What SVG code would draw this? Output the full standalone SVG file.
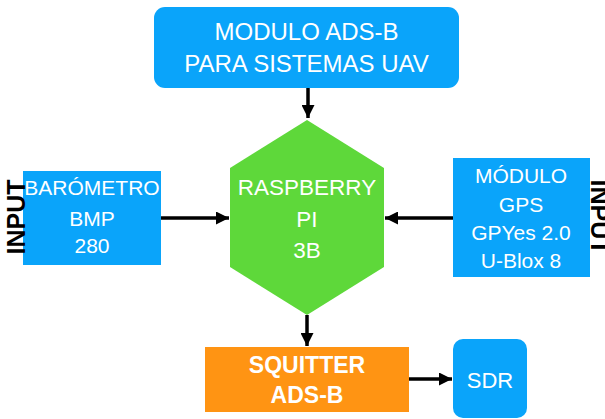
<svg xmlns="http://www.w3.org/2000/svg" width="605" height="419" viewBox="0 0 605 419">
<style>
.t{font-family:"Liberation Sans",Arial,sans-serif;fill:#fff;text-anchor:middle}
.in{font-family:"Liberation Sans",Arial,sans-serif;font-weight:bold;fill:#000;text-anchor:middle;font-size:25px}
.c{stroke:#000;stroke-width:3.5;fill:none;marker-end:url(#ah)}
.blue{fill:#0AA4FA}
</style>
<defs>
<marker id="ah" viewBox="0 0 10 10" refX="10" refY="5" markerUnits="userSpaceOnUse" markerWidth="13" markerHeight="13" orient="auto">
<path d="M0,0 L10,5 L0,10 Z" fill="#000"/>
</marker>
</defs>
<rect width="605" height="419" fill="#fff"/>
<g id="connectors">
<line class="c" x1="308" y1="88" x2="308" y2="118"/>
<line class="c" x1="161" y1="218" x2="229" y2="218"/>
<line class="c" x1="453" y1="218" x2="385" y2="218"/>
<line class="c" x1="307" y1="315" x2="307" y2="346"/>
<line class="c" x1="409" y1="379" x2="452" y2="379"/>
</g>
<g id="modulo">
<rect class="blue" x="154" y="7" width="305" height="81" rx="11"/>
<text class="t" x="306.5" y="40" font-size="24">MODULO ADS-B</text>
<text class="t" x="306.5" y="72" font-size="24">PARA SISTEMAS UAV</text>
</g>
<g id="raspberry">
<polygon points="307,120 384,168 384,267 307,315 230,267 230,168" fill="#5ED83A"/>
<text class="t" x="307" y="195" font-size="22.5">RASPBERRY</text>
<text class="t" x="307" y="227" font-size="22.5">PI</text>
<text class="t" x="307" y="258" font-size="22.5">3B</text>
</g>
<g id="barometro">
<rect class="blue" x="23" y="171" width="138" height="94"/>
<text class="t" x="92" y="195" font-size="21">BARÓMETRO</text>
<text class="t" x="92" y="226" font-size="21">BMP</text>
<text class="t" x="92" y="253" font-size="21">280</text>
<text class="in" transform="translate(25,217) rotate(-90)">INPUT</text>
</g>
<g id="gps">
<rect class="blue" x="453" y="158" width="137" height="119"/>
<text class="t" x="521" y="183" font-size="21">MÓDULO</text>
<text class="t" x="521" y="212" font-size="21">GPS</text>
<text class="t" x="521" y="240" font-size="21">GPYes 2.0</text>
<text class="t" x="521" y="268" font-size="21">U-Blox 8</text>
<text class="in" transform="translate(591,217) rotate(90)">INPUT</text>
</g>
<g id="squitter">
<rect x="205" y="347" width="204" height="65" fill="#FF9413"/>
<text class="t" x="307" y="373" font-size="23" font-weight="bold">SQUITTER</text>
<text class="t" x="307" y="403" font-size="23" font-weight="bold">ADS-B</text>
</g>
<g id="sdr">
<rect class="blue" x="453" y="339" width="74" height="79" rx="10"/>
<text class="t" x="490" y="388" font-size="22">SDR</text>
</g>
</svg>
